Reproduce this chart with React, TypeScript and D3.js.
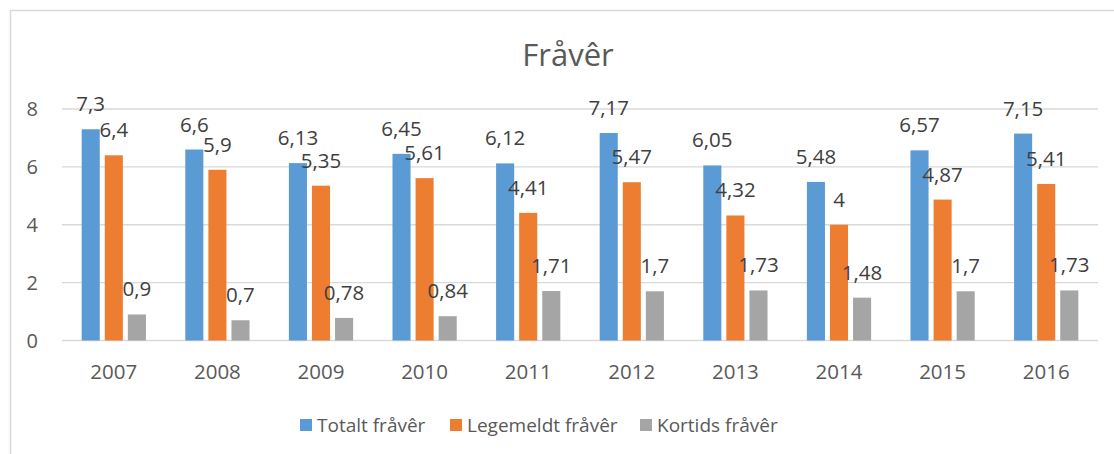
import React from 'react';
import * as d3 from 'd3';

const years = ['2007', '2008', '2009', '2010', '2011', '2012', '2013', '2014', '2015', '2016'];
const seriesNames = ['Totalt fråvêr', 'Legemeldt fråvêr', 'Kortids fråvêr'];
const totalt = [7.3, 6.6, 6.13, 6.45, 6.12, 7.17, 6.05, 5.48, 6.57, 7.15];
const legemeldt = [6.4, 5.9, 5.35, 5.61, 4.41, 5.47, 4.32, 4, 4.87, 5.41];
const kortids = [0.9, 0.7, 0.78, 0.84, 1.71, 1.7, 1.73, 1.48, 1.7, 1.73];
const yTicks = [0, 2, 4, 6, 8];

const colors = ['#5B9BD5', '#ED7D31', '#A5A5A5'];
const textColor = '#595959';
const font = "'Open Sans', 'Noto Sans', sans-serif";

const W = 1114;
const H = 454;

const App = () => {
  const allSeries = [totalt, legemeldt, kortids];

  const x = d3.scaleBand().domain(years).range([62, 1098]).padding(0);
  const y = d3.scaleLinear().domain([0, 8]).range([340.5, 109]);

  const groupW = x.bandwidth() * 0.62; // approx Excel gap width
  const inner = d3
    .scaleBand()
    .domain(seriesNames)
    .range([0, groupW])
    .paddingInner(0.217);

  // format with Norwegian decimal comma
  const fmt = (v: number) => String(v).replace('.', ',');

  const legendX = [300, 450, 640];

  return (
    <div style={{ position: 'absolute', left: 0, top: 0 }}>
      <svg width={W} height={H} style={{ display: 'block', background: '#fff' }}>
        {/* chart border */}
        <rect x={10.5} y={10.5} width={1120} height={460} fill="none" stroke="#D9D9D9" strokeWidth={1.5} />

        <text x={568} y={66} textAnchor="middle" fontFamily={font} fontSize={31} fill={textColor}>
          Fråvêr
        </text>

        {/* gridlines */}
        {yTicks.map(t => (
          <line key={t} x1={62} x2={1098} y1={y(t)} y2={y(t)} stroke="#D9D9D9" strokeWidth={1.3} />
        ))}
        {yTicks.map(t => (
          <text key={'t' + t} x={38} y={y(t) + 7} textAnchor="end" fontFamily={font} fontSize={20} fill={textColor}>
            {t}
          </text>
        ))}

        {/* bars */}
        {years.map((yr, i) => {
          const gx = (x(yr) as number) + (x.bandwidth() - groupW) / 2;
          return (
            <g key={yr}>
              {allSeries.map((s, si) => {
                const bx = gx + (inner(seriesNames[si]) as number);
                const bw = inner.bandwidth();
                return (
                  <g key={si}>
                    <rect x={bx} y={y(s[i])} width={bw} height={y(0) - y(s[i])} fill={colors[si]} />
                    <text
                      x={bx + bw / 2}
                      y={y(s[i]) - 18}
                      textAnchor="middle"
                      fontFamily={font}
                      fontSize={20.5}
                      fill="#404040"
                    >
                      {fmt(s[i])}
                    </text>
                  </g>
                );
              })}
              <text
                x={(x(yr) as number) + x.bandwidth() / 2}
                y={379}
                textAnchor="middle"
                fontFamily={font}
                fontSize={20.5}
                fill={textColor}
              >
                {yr}
              </text>
            </g>
          );
        })}

        {/* legend */}
        {seriesNames.map((n, i) => (
          <g key={n}>
            <rect x={legendX[i]} y={419} width={12} height={12} fill={colors[i]} />
            <text x={legendX[i] + 17} y={432} fontFamily={font} fontSize={19} fill={textColor}>
              {n}
            </text>
          </g>
        ))}
      </svg>
    </div>
  );
};

export default App;
